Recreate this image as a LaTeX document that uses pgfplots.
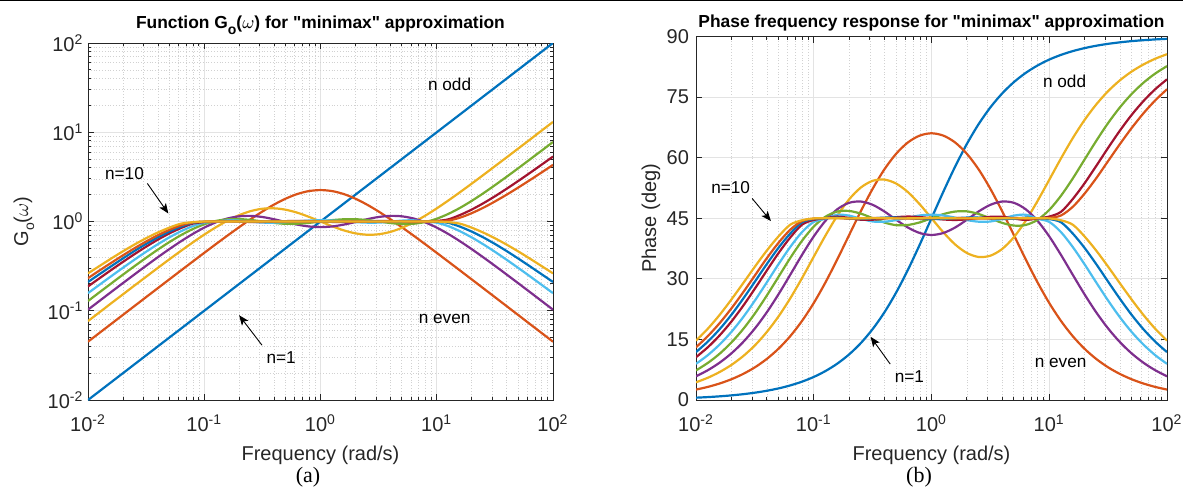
\documentclass[border=0pt]{standalone}
\usepackage{fontspec}
\setmainfont{Liberation Sans}
\newfontfamily\capfont{Liberation Serif}
\usepackage{pgfplots}
\pgfplotsset{compat=1.18}
\usepackage{pgfplotstable}
\usetikzlibrary{arrows.meta}

% MATLAB default line colours
\definecolor{c1}{rgb}{0,0.447,0.741}
\definecolor{c2}{rgb}{0.850,0.325,0.098}
\definecolor{c3}{rgb}{0.929,0.694,0.125}
\definecolor{c4}{rgb}{0.494,0.184,0.556}
\definecolor{c5}{rgb}{0.466,0.674,0.188}
\definecolor{c6}{rgb}{0.301,0.745,0.933}
\definecolor{c7}{rgb}{0.635,0.078,0.184}

% phase (deg) of the approximations, n = 1..10
\pgfplotstableread{
w        p1    p2    p3    p4    p5    p6    p7    p8    p9    p10
0.01     0.573 2.58  4.38  5.87  7.32  8.95  10.60 11.86 13.05 14.70
0.012589 0.721 3.24  5.50  7.37  9.17  11.10 13.05 14.45 15.81 17.64
0.015849 0.907 4.08  6.92  9.23  11.44 13.72 15.98 17.51 19.01 21.05
0.019953 1.143 5.13  8.67  11.53 14.22 16.84 19.40 21.07 22.65 24.86
0.025119 1.439 6.45  10.85 14.34 17.54 20.49 23.30 25.06 26.64 28.90
0.031623 1.811 8.09  13.52 17.71 21.42 24.62 27.57 29.30 30.83 33.01
0.039811 2.280 10.14 16.79 21.66 25.80 29.06 32.00 33.60 35.05 36.95
0.050119 2.866 12.68 20.66 26.15 30.46 33.60 36.34 37.66 38.90 40.49
0.063096 3.610 15.79 25.15 30.99 35.14 37.87 40.22 41.21 42.16 43.40
0.079433 4.541 19.56 30.16 35.91 39.41 41.56 43.40 44.00 44.30 44.50
0.1      5.711 24.01 35.48 40.51 42.94 44.10 44.58 44.81 44.91 44.96
0.12589  7.179 29.15 40.75 44.39 45.40 44.87 45.04 45.00 45.03 45.03
0.15849  9.008 34.83 45.62 47.23 46.66 45.88 45.42 45.17 45.05 45.00
0.19953  11.28 40.81 49.67 48.82 46.81 45.65 45.07 44.90 44.91 44.97
0.25119  14.10 46.76 52.61 49.14 46.14 44.87 44.63 44.82 44.97 45.00
0.31623  17.55 52.29 54.27 48.33 45.03 44.20 44.64 44.98 45.08 45.03
0.39811  21.70 57.11 54.58 46.68 43.94 44.15 44.93 45.16 45.08 45.01
0.50119  26.62 60.98 53.59 44.62 43.29 44.55 45.27 45.17 44.99 44.97
0.63096  32.25 63.78 51.47 42.70 43.34 45.16 45.42 45.00 44.92 44.98
0.79433  38.46 65.47 48.46 41.35 43.98 45.69 45.30 44.85 44.94 45.02
1        45.00 66.04 45.00 40.86 45.00 45.90 45.00 44.81 45.00 45.04
1.2589   51.54 65.47 41.54 41.35 46.02 45.69 44.70 44.85 45.06 45.02
1.5849   57.75 63.78 38.53 42.70 46.66 45.16 44.58 45.00 45.08 44.98
1.9953   63.38 60.98 36.41 44.62 46.71 44.55 44.73 45.17 45.01 44.97
2.5119   68.30 57.11 35.42 46.68 46.06 44.15 45.07 45.16 44.92 45.01
3.1623   72.45 52.29 35.73 48.33 44.97 44.20 45.36 44.98 44.92 45.03
3.9811   75.90 46.76 37.39 49.14 43.86 44.87 45.37 44.82 45.03 45.00
5.0119   78.72 40.81 40.33 48.82 43.19 45.65 44.93 44.90 45.09 44.97
6.3096   80.99 34.83 44.38 47.23 43.34 45.88 44.58 45.17 44.95 45.00
7.9433   82.82 29.15 49.25 44.39 44.60 44.87 44.96 45.00 44.97 45.03
10       84.29 24.01 54.52 40.51 47.06 44.10 45.42 44.81 45.09 44.96
12.589   85.46 19.56 59.84 35.91 50.59 41.56 46.60 44.00 45.70 44.50
15.849   86.39 15.79 64.85 30.99 54.86 37.87 49.78 41.21 47.84 43.40
19.953   87.13 12.68 69.34 26.15 59.54 33.60 53.66 37.66 51.10 40.49
25.119   87.72 10.14 73.21 21.66 64.20 29.06 58.00 33.60 54.95 36.95
31.623   88.19 8.09  76.48 17.71 68.58 24.62 62.43 29.30 59.17 33.01
39.811   88.56 6.45  79.15 14.34 72.46 20.49 66.70 25.06 63.36 28.90
50.119   88.86 5.13  81.33 11.53 75.78 16.84 70.60 21.07 67.35 24.86
63.096   89.09 4.08  83.08 9.23  78.56 13.72 74.02 17.51 70.99 21.05
79.433   89.28 3.24  84.50 7.37  80.83 11.10 76.95 14.45 74.19 17.64
100      89.43 2.58  85.62 5.87  82.68 8.95  79.40 11.86 76.95 14.70
}\phasetab

% G_o for n = 2..10 (n = 1 is the straight line G = w)
\pgfplotstableread{
w        g2      g3     g4     g5     g6     g7     g8     g9     g10
0.01     0.0450  0.0766 0.1028 0.1285 0.1575 0.1872 0.2101 0.2318 0.2623
0.012589 0.05665 0.0963 0.1293 0.1614 0.1962 0.2318 0.2577 0.2832 0.3180
0.015849 0.07131 0.1214 0.1625 0.2023 0.2441 0.2864 0.3155 0.3445 0.3849
0.019953 0.08974 0.1525 0.2040 0.2534 0.3027 0.3522 0.3853 0.4173 0.4633
0.025119 0.1130  0.1917 0.2556 0.3160 0.3737 0.4307 0.4676 0.5016 0.5520
0.031623 0.1422  0.2404 0.3193 0.3923 0.4583 0.5221 0.5612 0.5968 0.6497
0.039811 0.1789  0.3017 0.3972 0.4834 0.5557 0.6249 0.6644 0.7015 0.7522
0.050119 0.2250  0.3771 0.4910 0.5881 0.6644 0.7356 0.7718 0.8069 0.8538
0.063096 0.2828  0.4695 0.6006 0.7036 0.7776 0.8456 0.8757 0.9055 0.9457
0.079433 0.3552  0.5811 0.7241 0.8217 0.8866 0.9456 0.9657 0.9759 0.9827
0.1      0.4455  0.7128 0.8544 0.9306 0.9691 0.9855 0.9934 0.9969 0.9986
0.12589  0.5577  0.8616 0.9789 1.0141 0.9955 1.0014 1.0000 1.0010 1.0010
0.15849  0.6958  1.0219 1.0810 1.0597 1.0312 1.0148 1.0060 1.0017 1.0000
0.19953  0.8634  1.1778 1.1431 1.0652 1.0229 1.0024 0.9965 0.9969 0.9990
0.25119  1.0633  1.3084 1.1561 1.0406 0.9955 0.9872 0.9938 0.9990 1.0000
0.31623  1.2936  1.3900 1.1235 1.0010 0.9725 0.9875 0.9993 1.0028 1.0010
0.39811  1.5464  1.4060 1.0604 0.9637 0.9708 0.9976 1.0056 1.0028 1.0003
0.50119  1.8026  1.3559 0.9867 0.9420 0.9844 1.0095 1.0060 0.9997 0.9990
0.63096  2.0308  1.2558 0.9227 0.9437 1.0056 1.0148 1.0000 0.9972 0.9993
0.79433  2.1917  1.1287 0.8801 0.9650 1.0244 1.0105 0.9948 0.9979 1.0007
1        2.2500  1.0000 0.8650 1.0000 1.0319 1.0000 0.9934 1.0000 1.0014
1.2589   2.1917  0.8860 0.8801 1.0363 1.0244 0.9896 0.9948 1.0021 1.0007
1.5849   2.0308  0.7963 0.9227 1.0597 1.0056 0.9854 1.0000 1.0028 0.9993
1.9953   1.8026  0.7375 0.9867 1.0616 0.9844 0.9906 1.0060 1.0003 0.9990
2.5119   1.5464  0.7112 1.0604 1.0377 0.9708 1.0024 1.0056 0.9972 1.0003
3.1623   1.2936  0.7194 1.1235 0.9990 0.9725 1.0127 0.9993 0.9972 1.0010
3.9811   1.0633  0.7643 1.1561 0.9610 0.9955 1.0130 0.9938 1.0010 1.0000
5.0119   0.8634  0.8490 1.1431 0.9388 1.0229 0.9976 0.9965 1.0031 0.9990
6.3096   0.6958  0.9786 1.0810 0.9437 1.0312 0.9854 1.0060 0.9983 1.0000
7.9433   0.5577  1.1606 0.9789 0.9861 0.9955 0.9986 1.0000 0.9990 1.0010
10       0.4455  1.4029 0.8544 1.0746 0.9691 1.0147 0.9934 1.0031 0.9986
12.589   0.3552  1.7209 0.7241 1.2170 0.8866 1.0575 0.9657 1.0247 0.9827
15.849   0.2828  2.1299 0.6006 1.4213 0.7776 1.1826 0.8757 1.1044 0.9457
19.953   0.2250  2.6518 0.4910 1.7004 0.6644 1.3594 0.7718 1.2393 0.8538
25.119   0.1789  3.3146 0.3972 2.0687 0.5557 1.6003 0.6644 1.4255 0.7522
31.623   0.1422  4.1597 0.3193 2.5491 0.4583 1.9153 0.5612 1.6756 0.6497
39.811   0.1130  5.2165 0.2556 3.1646 0.3737 2.3218 0.4676 1.9936 0.5520
50.119   0.08974 6.5574 0.2040 3.9463 0.3027 2.8393 0.3853 2.3964 0.4633
63.096   0.07131 8.2372 0.1625 4.9432 0.2441 3.4916 0.3155 2.9028 0.3849
79.433   0.05665 10.384 0.1293 6.1958 0.1962 4.3141 0.2577 3.5311 0.3180
100      0.0450  13.055 0.1028 7.7821 0.1575 5.3419 0.2101 4.3141 0.2623
}\gaintab

\newcommand{\dec}[1]{10\textsuperscript{#1}}
% straight double quote, bypassing the tex-text mapping
\newcommand{\dq}{\XeTeXglyph\XeTeXcharglyph"22\relax}
% MATLAB-like low subscript
\newcommand{\lsub}[2]{\raisebox{-#2}{\fontsize{7}{8}\selectfont #1}}

\tikzset{
  ann/.style={font=\fontsize{8.6}{10}\selectfont, text=black},
  arr/.style={-{Stealth[length=5pt,width=4pt,inset=1.2pt]}, line width=0.45pt, black},
}

\begin{document}
\begin{tikzpicture}
\path[use as bounding box] (0,0) rectangle (591.5pt,244pt);
\fill[black] (0,243.3pt) rectangle (591.5pt,244pt);

% (a) magnitude function
\begin{axis}[
    scale only axis,
    at={(44pt,44pt)}, anchor=south west,
    width=232.5pt, height=178.5pt,
    xmode=log, ymode=log,
    xmin=0.01, xmax=100, ymin=0.01, ymax=100,
    xtick={0.01,0.1,1,10,100},
    xticklabels={\dec{-2},\dec{-1},\dec{0},\dec{1},\dec{2}},
    ytick={0.01,0.1,1,10,100},
    yticklabels={\dec{-2},\dec{-1},\dec{0},\dec{1},\dec{2}},
    minor xtick={0.02,0.03,0.04,0.05,0.06,0.07,0.08,0.09,0.2,0.3,0.4,0.5,0.6,0.7,0.8,0.9,2,3,4,5,6,7,8,9,20,30,40,50,60,70,80,90},
    minor ytick={0.02,0.03,0.04,0.05,0.06,0.07,0.08,0.09,0.2,0.3,0.4,0.5,0.6,0.7,0.8,0.9,2,3,4,5,6,7,8,9,20,30,40,50,60,70,80,90},
    tick align=inside,
    major tick length=3pt, minor tick length=1.6pt,
    grid=both,
    major grid style={gray!22, line width=0.45pt},
    minor grid style={gray!36, densely dotted, line width=0.35pt},
    axis line style={black!85, line width=0.45pt},
    tick style={black!85, line width=0.45pt},
    tick label style={font=\fontsize{10}{12}\selectfont, text=black!85},
    xticklabel style={anchor=base, yshift=-15.8pt},
    yticklabel style={xshift=1.2pt},
    label style={font=\fontsize{10}{12}\selectfont, text=black!85},
    xlabel={Frequency (rad/s)},
    xlabel style={at={(axis description cs:0.5,0)}, anchor=base, yshift=-30pt},
    ylabel={G\lsub{o}{3pt}($\omega$)},
    ylabel style={at={(axis description cs:-0.1376,0.5)}, anchor=center},
    title={Function G\lsub{o}{3pt}($\omega$) for \dq minimax\dq{} approximation},
    title style={font=\fontsize{8.7}{10}\selectfont\bfseries, at={(0.5,1)}, anchor=base, yshift=1.3pt},
    every axis plot/.append style={line width=1.1pt, smooth},
  ]
  \addplot[c1] coordinates {(0.01,0.01) (100,100)};
  \addplot[c2] table[x=w,y=g2] {\gaintab};
  \addplot[c3] table[x=w,y=g3] {\gaintab};
  \addplot[c4] table[x=w,y=g4] {\gaintab};
  \addplot[c5] table[x=w,y=g5] {\gaintab};
  \addplot[c6] table[x=w,y=g6] {\gaintab};
  \addplot[c7] table[x=w,y=g7] {\gaintab};
  \addplot[c1] table[x=w,y=g8] {\gaintab};
  \addplot[c2] table[x=w,y=g9] {\gaintab};
  \addplot[c3] table[x=w,y=g10] {\gaintab};

  \node[ann] at (axis cs:12.9,34.5) {n odd};
  \node[ann] at (axis cs:11.7,0.0804) {n even};
  \node[ann] at (axis cs:0.0206,3.45) {n=10};
  \draw[arr] (axis cs:0.0324,2.67) -- (axis cs:0.0491,1.23);
  \node[ann] at (axis cs:0.459,0.0299) {n=1};
  \draw[arr] (axis cs:0.314,0.0411) -- (axis cs:0.1995,0.0891);
\end{axis}

% (b) phase response
\begin{axis}[
    scale only axis,
    at={(348pt,44pt)}, anchor=south west,
    width=235.5pt, height=181.75pt,
    xmode=log,
    xmin=0.01, xmax=100, ymin=0, ymax=90,
    xtick={0.01,0.1,1,10,100},
    xticklabels={\dec{-2},\dec{-1},\dec{0},\dec{1},\dec{2}},
    ytick={0,15,30,45,60,75,90},
    yticklabels={0,15,30,45,60,75,90},
    minor xtick={0.02,0.03,0.04,0.05,0.06,0.07,0.08,0.09,0.2,0.3,0.4,0.5,0.6,0.7,0.8,0.9,2,3,4,5,6,7,8,9,20,30,40,50,60,70,80,90},
    tick align=inside,
    major tick length=3pt, minor tick length=1.6pt,
    grid=both,
    major grid style={gray!22, line width=0.45pt},
    minor grid style={gray!36, densely dotted, line width=0.35pt},
    axis line style={black!85, line width=0.45pt},
    tick style={black!85, line width=0.45pt},
    tick label style={font=\fontsize{10}{12}\selectfont, text=black!85},
    xticklabel style={anchor=base, yshift=-15.8pt},
    label style={font=\fontsize{10}{12}\selectfont, text=black!85},
    xlabel={Frequency (rad/s)},
    xlabel style={at={(axis description cs:0.5,0)}, anchor=base, yshift=-30pt},
    ylabel={Phase (deg)},
    ylabel style={at={(axis description cs:-0.0955,0.5)}, anchor=center},
    title={Phase frequency response for \dq minimax\dq{} approximation},
    title style={font=\fontsize{8.7}{10}\selectfont\bfseries, at={(0.5,1)}, anchor=base, yshift=-1.6pt},
    every axis plot/.append style={line width=1.1pt, smooth},
  ]
  \addplot[c1] table[x=w,y=p1] {\phasetab};
  \addplot[c2] table[x=w,y=p2] {\phasetab};
  \addplot[c3] table[x=w,y=p3] {\phasetab};
  \addplot[c4] table[x=w,y=p4] {\phasetab};
  \addplot[c5] table[x=w,y=p5] {\phasetab};
  \addplot[c6] table[x=w,y=p6] {\phasetab};
  \addplot[c7] table[x=w,y=p7] {\phasetab};
  \addplot[c1] table[x=w,y=p8] {\phasetab};
  \addplot[c2] table[x=w,y=p9] {\phasetab};
  \addplot[c3] table[x=w,y=p10] {\phasetab};

  \node[ann] at (axis cs:13.5,78.9) {n odd};
  \node[ann] at (axis cs:12.5,9.1) {n even};
  \node[ann] at (axis cs:0.0197,52.6) {n=10};
  \draw[arr] (axis cs:0.030,49.9) -- (axis cs:0.0433,44.3);
  \node[ann] at (axis cs:0.65,5.9) {n=1};
  \draw[arr] (axis cs:0.446,8.9) -- (axis cs:0.304,15.65);
\end{axis}

\node[font=\capfont\fontsize{11}{12}\selectfont, anchor=base] at (154pt,2.6pt) {(a)};
\node[font=\capfont\fontsize{11}{12}\selectfont, anchor=base] at (459.5pt,2.6pt) {(b)};
\end{tikzpicture}
\end{document}
